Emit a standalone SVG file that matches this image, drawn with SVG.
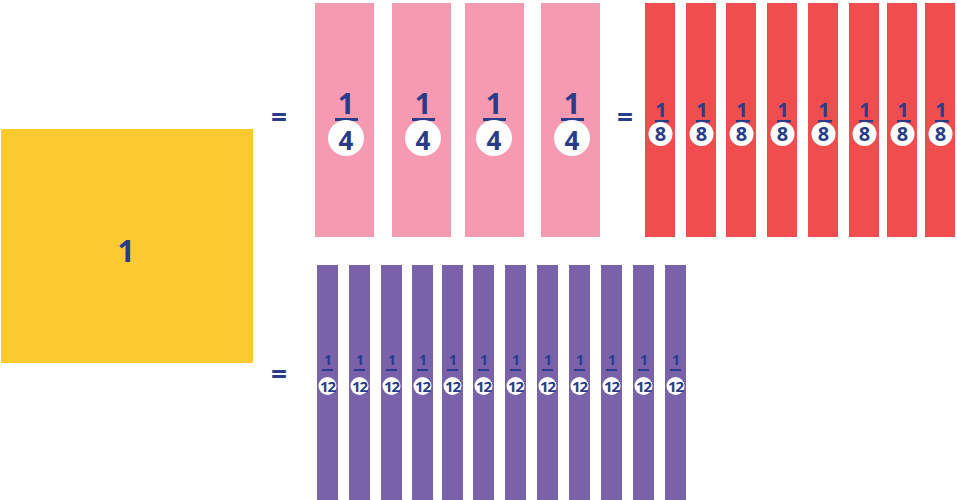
<svg xmlns="http://www.w3.org/2000/svg" width="957" height="500" viewBox="0 0 957 500">
<style>
.t{font-family:"Open Sans","Liberation Sans",sans-serif;font-weight:700;fill:#283C8A;text-anchor:middle}
.ln{fill:#283C8A}
.c{fill:#FFFFFF}
.pk{fill:#F59AB0}
.rd{fill:#F04E4E}
.pu{fill:#7A62AB}
.eq{font-size:28px}
.qn{font-size:29px}
.qd{font-size:26px}
.en{font-size:20px}
.ed{font-size:20px}
.wn{font-size:14px}
.wd{font-size:15px;letter-spacing:-1px}
</style>
<rect width="957" height="500" fill="#FFFFFF"/>
<g id="whole">
<rect x="1" y="129" width="252" height="234" fill="#FCC92E"/>
<text class="t" x="126" y="262" font-size="30">1</text>
</g>
<g id="equals">
<text class="t eq" x="279" y="127">=</text>
<text class="t eq" x="625" y="127">=</text>
<text class="t eq" x="279" y="384">=</text>
</g>
<g id="quarters">
<g id="q1"><rect class="pk" x="315" y="3" width="59" height="234"/><text class="t qn" x="346" y="114">1</text><rect class="ln" x="335" y="118" width="23" height="3"/><circle class="c" cx="346" cy="138" r="18"/><text class="t qd" x="346" y="150">4</text></g>
<g id="q2"><rect class="pk" x="392" y="3" width="59" height="234"/><text class="t qn" x="423" y="114">1</text><rect class="ln" x="412" y="118" width="23" height="3"/><circle class="c" cx="423" cy="138" r="18"/><text class="t qd" x="423" y="150">4</text></g>
<g id="q3"><rect class="pk" x="465" y="3" width="59" height="234"/><text class="t qn" x="494" y="114">1</text><rect class="ln" x="483" y="118" width="23" height="3"/><circle class="c" cx="494" cy="138" r="18"/><text class="t qd" x="494" y="150">4</text></g>
<g id="q4"><rect class="pk" x="541" y="3" width="59" height="234"/><text class="t qn" x="572" y="114">1</text><rect class="ln" x="561" y="118" width="23" height="3"/><circle class="c" cx="572" cy="138" r="18"/><text class="t qd" x="572" y="150">4</text></g>
</g>
<g id="eighths">
<g id="e1"><rect class="rd" x="645" y="3" width="30" height="234"/><text class="t en" x="661" y="117">1</text><rect class="ln" x="655" y="120" width="14" height="2.5"/><circle class="c" cx="660.5" cy="134" r="12"/><text class="t ed" x="660.5" y="141">8</text></g>
<g id="e2"><rect class="rd" x="686" y="3" width="30" height="234"/><text class="t en" x="702" y="117">1</text><rect class="ln" x="696" y="120" width="14" height="2.5"/><circle class="c" cx="701.5" cy="134" r="12"/><text class="t ed" x="701.5" y="141">8</text></g>
<g id="e3"><rect class="rd" x="726" y="3" width="30" height="234"/><text class="t en" x="742" y="117">1</text><rect class="ln" x="736" y="120" width="14" height="2.5"/><circle class="c" cx="741.5" cy="134" r="12"/><text class="t ed" x="741.5" y="141">8</text></g>
<g id="e4"><rect class="rd" x="767" y="3" width="30" height="234"/><text class="t en" x="783" y="117">1</text><rect class="ln" x="777" y="120" width="14" height="2.5"/><circle class="c" cx="782.5" cy="134" r="12"/><text class="t ed" x="782.5" y="141">8</text></g>
<g id="e5"><rect class="rd" x="808" y="3" width="30" height="234"/><text class="t en" x="824" y="117">1</text><rect class="ln" x="818" y="120" width="14" height="2.5"/><circle class="c" cx="823.5" cy="134" r="12"/><text class="t ed" x="823.5" y="141">8</text></g>
<g id="e6"><rect class="rd" x="849" y="3" width="30" height="234"/><text class="t en" x="865" y="117">1</text><rect class="ln" x="859" y="120" width="14" height="2.5"/><circle class="c" cx="864.5" cy="134" r="12"/><text class="t ed" x="864.5" y="141">8</text></g>
<g id="e7"><rect class="rd" x="887" y="3" width="30" height="234"/><text class="t en" x="903" y="117">1</text><rect class="ln" x="897" y="120" width="14" height="2.5"/><circle class="c" cx="902.5" cy="134" r="12"/><text class="t ed" x="902.5" y="141">8</text></g>
<g id="e8"><rect class="rd" x="925" y="3" width="30" height="234"/><text class="t en" x="941" y="117">1</text><rect class="ln" x="935" y="120" width="14" height="2.5"/><circle class="c" cx="940.5" cy="134" r="12"/><text class="t ed" x="940.5" y="141">8</text></g>
</g>
<g id="twelfths">
<g id="w1"><rect class="pu" x="317" y="265" width="21" height="235"/><text class="t wn" x="328" y="365">1</text><rect class="ln" x="322" y="369" width="11" height="2"/><circle class="c" cx="327.5" cy="386" r="9"/><text class="t wd" x="327.5" y="391.5">12</text></g>
<g id="w2"><rect class="pu" x="349" y="265" width="21" height="235"/><text class="t wn" x="360" y="365">1</text><rect class="ln" x="354" y="369" width="11" height="2"/><circle class="c" cx="359.5" cy="386" r="9"/><text class="t wd" x="359.5" y="391.5">12</text></g>
<g id="w3"><rect class="pu" x="381" y="265" width="21" height="235"/><text class="t wn" x="392" y="365">1</text><rect class="ln" x="386" y="369" width="11" height="2"/><circle class="c" cx="391.5" cy="386" r="9"/><text class="t wd" x="391.5" y="391.5">12</text></g>
<g id="w4"><rect class="pu" x="412" y="265" width="21" height="235"/><text class="t wn" x="423" y="365">1</text><rect class="ln" x="417" y="369" width="11" height="2"/><circle class="c" cx="422.5" cy="386" r="9"/><text class="t wd" x="422.5" y="391.5">12</text></g>
<g id="w5"><rect class="pu" x="442" y="265" width="21" height="235"/><text class="t wn" x="453" y="365">1</text><rect class="ln" x="447" y="369" width="11" height="2"/><circle class="c" cx="452.5" cy="386" r="9"/><text class="t wd" x="452.5" y="391.5">12</text></g>
<g id="w6"><rect class="pu" x="473" y="265" width="21" height="235"/><text class="t wn" x="484" y="365">1</text><rect class="ln" x="478" y="369" width="11" height="2"/><circle class="c" cx="483.5" cy="386" r="9"/><text class="t wd" x="483.5" y="391.5">12</text></g>
<g id="w7"><rect class="pu" x="505" y="265" width="21" height="235"/><text class="t wn" x="516" y="365">1</text><rect class="ln" x="510" y="369" width="11" height="2"/><circle class="c" cx="515.5" cy="386" r="9"/><text class="t wd" x="515.5" y="391.5">12</text></g>
<g id="w8"><rect class="pu" x="537" y="265" width="21" height="235"/><text class="t wn" x="548" y="365">1</text><rect class="ln" x="542" y="369" width="11" height="2"/><circle class="c" cx="547.5" cy="386" r="9"/><text class="t wd" x="547.5" y="391.5">12</text></g>
<g id="w9"><rect class="pu" x="569" y="265" width="21" height="235"/><text class="t wn" x="580" y="365">1</text><rect class="ln" x="574" y="369" width="11" height="2"/><circle class="c" cx="579.5" cy="386" r="9"/><text class="t wd" x="579.5" y="391.5">12</text></g>
<g id="w10"><rect class="pu" x="601" y="265" width="21" height="235"/><text class="t wn" x="612" y="365">1</text><rect class="ln" x="606" y="369" width="11" height="2"/><circle class="c" cx="611.5" cy="386" r="9"/><text class="t wd" x="611.5" y="391.5">12</text></g>
<g id="w11"><rect class="pu" x="633" y="265" width="21" height="235"/><text class="t wn" x="644" y="365">1</text><rect class="ln" x="638" y="369" width="11" height="2"/><circle class="c" cx="643.5" cy="386" r="9"/><text class="t wd" x="643.5" y="391.5">12</text></g>
<g id="w12"><rect class="pu" x="665" y="265" width="21" height="235"/><text class="t wn" x="676" y="365">1</text><rect class="ln" x="670" y="369" width="11" height="2"/><circle class="c" cx="675.5" cy="386" r="9"/><text class="t wd" x="675.5" y="391.5">12</text></g>
</g>
</svg>
